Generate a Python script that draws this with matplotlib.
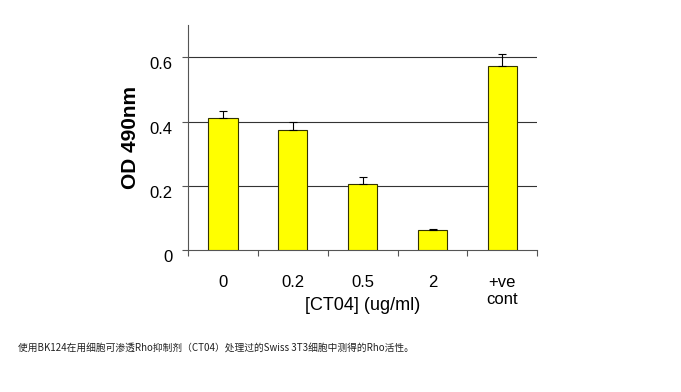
import matplotlib
matplotlib.use("Agg")
import matplotlib.pyplot as plt
import numpy as np

# data
categories = ["0", "0.2", "0.5", "2", "+ve\ncont"]
od_values = [0.41, 0.373, 0.206, 0.062, 0.572]
err_up = [0.023, 0.024, 0.021, 0.003, 0.037]
y_ticks = [0, 0.2, 0.4, 0.6]
y_tick_labels = ["0", "0.2", "0.4", "0.6"]

caption = "使用BK124在用细胞可渗透Rho抑制剂（CT04）处理过的Swiss 3T3细胞中测得的Rho活性。"

fig = plt.figure(figsize=(6.81, 3.92), dpi=100)
ax = fig.add_axes([0.276, 0.362, 0.513, 0.574])

x = np.arange(len(categories))
ax.bar(x, od_values, width=0.42, color="#FFFF00", edgecolor="#333300", linewidth=0.8, zorder=3)
ax.errorbar(x, od_values, yerr=[np.zeros(len(err_up)), err_up], fmt="none",
            ecolor="black", elinewidth=0.8, capsize=3, capthick=0.8, zorder=4)

ax.set_xlim(-0.5, len(categories) - 0.5)
ax.set_ylim(0, 0.7)
ax.set_yticks(y_ticks)
ax.set_yticklabels(y_tick_labels, fontsize=12, family="Liberation Sans", va="top")
for yt in y_ticks[1:]:
    ax.axhline(yt, color="#333333", linewidth=0.8, zorder=1)

# category boundary ticks
ax.set_xticks(np.arange(len(categories) + 1) - 0.5)
ax.set_xticklabels([])
ax.set_xticks(x, minor=True)
ax.set_xticklabels(categories, minor=True, fontsize=12, family="Liberation Sans", linespacing=1.2)
ax.tick_params(axis="x", which="minor", length=0, pad=18)
ax.tick_params(axis="x", which="major", length=4.5, color="#555555")
ax.tick_params(axis="y", length=4.5, pad=6.5, color="#555555")

for lbl in ax.get_xticklabels(minor=True):
    lbl.set_verticalalignment("top")

ax.spines["top"].set_visible(False)
ax.spines["right"].set_visible(False)
ax.spines["left"].set_color("#555555")
ax.spines["bottom"].set_color("#555555")

ax.set_ylabel("OD 490nm", fontsize=15, fontweight="bold", family="Liberation Sans", labelpad=7)
ax.text(0.5, -0.245, "[CT04] (ug/ml)", transform=ax.transAxes, ha="center", va="center",
        fontsize=13, family="Liberation Sans")

fig.text(0.026, 0.112, caption, fontsize=7, family=["Noto Sans CJK SC", "DejaVu Sans"],
         ha="left", va="center", color="#222222")

fig.savefig("out.png", dpi=100)
